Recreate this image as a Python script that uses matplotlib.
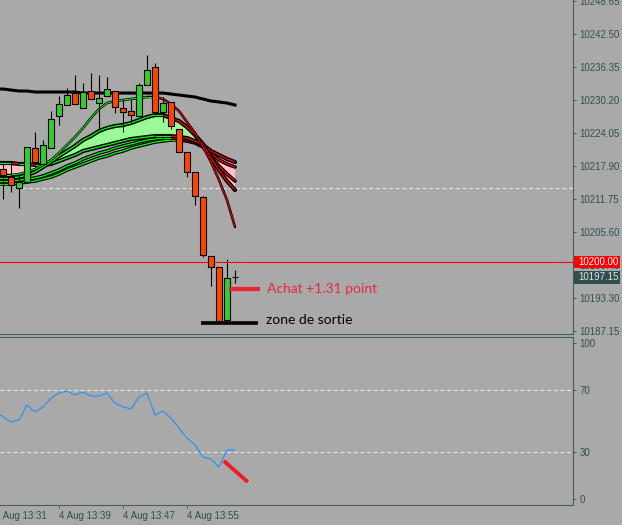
import numpy as np
import matplotlib
matplotlib.use('Agg')
import matplotlib.pyplot as plt
from matplotlib.collections import LineCollection
from matplotlib.patches import Rectangle
from matplotlib.transforms import blended_transform_factory

plt.rcParams['font.family'] = 'Liberation Sans'

# ---- data: 1 minute bars, 4 Aug 13:32 .. 14:01 ----
opens = [10217.34, 10215.85, 10213.80, 10214.92, 10221.25, 10218.27, 10221.25, 10227.22,
         10229.27, 10231.50, 10228.71, 10231.88, 10229.64, 10230.94, 10231.88, 10228.71,
         10228.15, 10227.22, 10232.99, 10236.35, 10227.96, 10229.83, 10224.79, 10220.51,
         10216.78, 10212.12, 10201.13, 10199.08, 10189.20, 10197.15]
highs = [10218.46, 10218.64, 10216.22, 10221.44, 10224.24, 10222.74, 10228.15, 10230.94,
         10232.44, 10234.86, 10233.37, 10235.23, 10234.86, 10234.49, 10231.88, 10230.20,
         10230.20, 10233.37, 10238.59, 10237.09, 10230.76, 10229.83, 10224.79, 10220.51,
         10216.78, 10212.31, 10201.13, 10199.08, 10200.57, 10198.52]
lows = [10211.75, 10213.05, 10210.07, 10214.73, 10218.46, 10218.27, 10221.25, 10225.54,
        10229.27, 10229.45, 10228.71, 10230.39, 10224.61, 10230.94, 10227.78, 10224.24,
        10225.91, 10227.22, 10232.99, 10227.96, 10226.10, 10224.79, 10220.51, 10215.85,
        10210.63, 10200.94, 10195.54, 10189.01, 10189.20, 10196.10]
closes = [10216.22, 10214.36, 10214.92, 10221.44, 10218.64, 10221.81, 10226.66, 10229.45,
          10231.13, 10229.45, 10231.69, 10230.39, 10230.57, 10232.25, 10228.90, 10227.96,
          10227.40, 10232.99, 10235.79, 10227.96, 10229.64, 10225.35, 10220.51, 10216.78,
          10212.31, 10201.31, 10199.08, 10189.01, 10197.03, 10197.15]

# indicator lines start one bar earlier (bar -1)
slow_ma = [10232.25, 10232.25, 10232.06, 10231.88, 10231.88, 10231.69, 10231.69, 10231.69,
           10231.69, 10231.69, 10231.69, 10231.50, 10231.50, 10231.50, 10231.50, 10231.50,
           10231.50, 10231.50, 10231.50, 10231.50, 10231.50, 10231.50, 10231.31, 10231.13,
           10230.94, 10230.76, 10230.39, 10230.01, 10229.83, 10229.64, 10229.27]
fast_ma = [10216.22, 10216.22, 10216.22, 10216.41, 10216.78, 10217.34, 10218.09, 10219.02,
           10220.32, 10221.81, 10223.30, 10224.98, 10226.84, 10228.52, 10229.64, 10230.01,
           10230.20, 10230.39, 10230.57, 10230.76, 10230.76, 10230.39, 10229.45, 10228.15,
           10226.10, 10224.05, 10221.44, 10218.64, 10215.29, 10211.56, 10206.53]
ribbon_a = [10215.66, 10215.66, 10215.66, 10215.85, 10216.22, 10216.78, 10217.71, 10218.64,
            10219.76, 10220.69, 10221.63, 10222.74, 10223.49, 10224.42, 10224.98, 10225.35,
            10225.54, 10225.91, 10226.47, 10227.03, 10227.40, 10227.40, 10226.84, 10226.29,
            10225.17, 10223.68, 10222.00, 10219.39, 10217.15, 10215.10, 10213.43]
ribbon_b = [10218.46, 10218.46, 10218.46, 10218.27, 10218.27, 10218.09, 10218.09, 10218.27,
            10218.83, 10219.39, 10219.95, 10220.69, 10221.07, 10221.44, 10221.81, 10222.19,
            10222.56, 10222.93, 10223.12, 10223.30, 10223.49, 10223.49, 10223.49, 10223.30,
            10223.12, 10222.56, 10221.81, 10220.69, 10219.95, 10219.20, 10218.64]
ribbon_c = [10215.10, 10215.10, 10215.10, 10215.29, 10215.48, 10215.66, 10216.04, 10216.59,
            10217.15, 10217.90, 10218.46, 10219.20, 10219.76, 10220.32, 10220.69, 10221.25,
            10221.63, 10222.00, 10222.37, 10222.74, 10222.93, 10223.12, 10223.12, 10222.93,
            10222.74, 10222.37, 10221.63, 10220.32, 10219.02, 10218.27, 10217.71]
ribbon_d = [10214.54, 10214.54, 10214.54, 10214.73, 10214.92, 10215.10, 10215.48, 10215.85,
            10216.41, 10217.15, 10217.71, 10218.27, 10218.83, 10219.39, 10219.76, 10220.32,
            10220.69, 10221.25, 10221.63, 10222.00, 10222.37, 10222.56, 10222.74, 10222.74,
            10222.56, 10222.19, 10221.44, 10219.58, 10217.90, 10216.41, 10215.10]
rsi = [56.4, 52.6, 49.4, 50.6, 60.3, 55.8, 59.0, 64.7, 67.9, 69.2, 66.7, 68.6, 66.0, 66.0,
       67.9, 61.5, 59.0, 57.7, 65.4, 67.9, 53.8, 56.4, 51.9, 45.5, 39.1, 34.6, 26.9, 25.6,
       20.5, 31.4, 31.4]

price_ticks = [10248.65, 10242.50, 10236.35, 10230.20, 10224.05, 10217.90, 10211.75,
               10205.60, 10199.45, 10193.30, 10187.15]
rsi_ticks = [0, 30, 70, 100]
time_ticks = [-1, 7, 15, 23]
time_labels = ['4 Aug 13:31', '4 Aug 13:39', '4 Aug 13:47', '4 Aug 13:55']

level_price = 10200.00
last_price = 10197.15
dash_level = 10213.80
buy_line_x = [28.25, 32.1]
buy_price = 10194.98
exit_line_x = [24.75, 31.9]
exit_price = 10188.64
sell_rsi_x = [27.6, 30.6]
sell_rsi_y = [24.4, 10.9]

# ---- styles ----
bg = '#a9a9a9'
slate = '#2f4f4f'
spine_c = '#3f6060'
up_c = '#32cd32'
dn_c = '#ff4500'
fs = 7.0

W, H = 622, 525
fig = plt.figure(figsize=(W / 100, H / 100), dpi=100)
fig.patch.set_facecolor(bg)
ax = fig.add_axes([0, 1 - 334 / H, 573 / W, 334 / H])
ax2 = fig.add_axes([0, 1 - 505 / H, 573 / W, (505 - 337) / H])

xb = np.arange(len(opens))
xi = np.arange(-1, len(opens))

for a in (ax, ax2):
    a.set_facecolor(bg)
    a.set_xlim(-0.375, 71.25)
    a.spines['left'].set_visible(False)
    for s in ('right', 'bottom', 'top'):
        a.spines[s].set_color(spine_c)
        a.spines[s].set_linewidth(0.8)
    a.yaxis.tick_right()
    a.tick_params(axis='y', direction='out', length=2.5, width=0.7, color=spine_c,
                  labelsize=fs, labelcolor=slate, pad=2)
ax.spines['top'].set_visible(False)
ax.set_ylim(10186.59, 10248.84)
ax2.set_ylim(-3.85, 103.85)
ax.set_xticks([])

ax.set_yticks(price_ticks, ['%.2f' % v for v in price_ticks])
ax2.set_yticks(rsi_ticks, [str(v) for v in rsi_ticks])

# ---- main panel ----
ax.axhline(level_price, color='#ff0000', lw=0.8, zorder=2)
ax.hlines(dash_level, 2.4, 71.25, colors='#e8e8e8', lw=0.8, linestyles=(0, (3.5, 2.5)), zorder=2)

ra = np.array(ribbon_a)
rb = np.array(ribbon_b)
ax.fill_between(xi, ra, rb, where=ra >= rb, interpolate=True, color='#98fb98', lw=0, zorder=3)
ax.fill_between(xi, ra, rb, where=ra < rb, interpolate=True, color='#ffc0cb', lw=0, zorder=3)

ax.plot(xi, slow_ma, color='black', lw=2.2, zorder=4)


def ribbon_line(y, outer, inner, z):
    y = np.asarray(y)
    ax.plot(xi, y, color='black', lw=outer, zorder=z, solid_capstyle='round')
    segs = [[(xi[i], y[i]), (xi[i + 1], y[i + 1])] for i in range(len(y) - 1)]
    cols = ['#00ff00' if y[i + 1] >= y[i] else '#ff0000' for i in range(len(y) - 1)]
    ax.add_collection(LineCollection(segs, colors=cols, linewidths=inner, zorder=z + 0.1))


ribbon_line(ribbon_d, 2.6, 0.9, 5)
ribbon_line(ribbon_c, 2.6, 0.9, 5.2)
ribbon_line(ribbon_b, 3.0, 0.9, 5.4)
ribbon_line(ribbon_a, 3.0, 0.9, 5.6)
ribbon_line(fast_ma, 1.8, 0.7, 5.8)

o = np.array(opens)
c = np.array(closes)
cols = [up_c if cc > oo else dn_c for oo, cc in zip(o, c)]
ax.vlines(xb, lows, highs, color='black', lw=0.8, zorder=7)
ax.bar(xb, c - o, bottom=o, width=0.65, color=cols, edgecolor='black', linewidth=0.8, zorder=8)

# annotations
ax.plot(buy_line_x, [buy_price] * 2, color='#ee2233', lw=3, solid_capstyle='butt', zorder=9)
ax.text(33.0, buy_price, 'Achat +1.31 point', color='#e8283c', fontsize=10,
        family='Lato', va='center', ha='left', zorder=9)
ax.plot(exit_line_x, [exit_price] * 2, color='black', lw=2.6, solid_capstyle='butt', zorder=9)
ax.text(32.9, exit_price + 0.6, 'zone de sortie', color='black', fontsize=10,
        family='Lato', va='center', ha='left', zorder=9)

# price labels on the axis
tr = blended_transform_factory(fig.transFigure, ax.transData)
for price, fc, tc in ((last_price, slate, '#e0e0e0'), (level_price, '#ff0000', 'white')):
    r = Rectangle((574 / W, price - 1.15), 46 / W, 2.3, transform=tr, facecolor=fc,
                  edgecolor='none', clip_on=False, zorder=20)
    ax.add_patch(r)
    ax.text(578 / W, price, '%.2f' % price, transform=tr, color=tc, fontsize=fs,
            va='center', ha='left', clip_on=False, zorder=21)

# ---- RSI panel ----
for lv in (30, 70):
    ax2.axhline(lv, color='#e8e8e8', lw=0.8, linestyle=(0, (3.5, 2.5)), zorder=2)
ax2.plot(xi, rsi, color='#1e90ff', lw=0.8, zorder=4)
ax2.plot(sell_rsi_x, sell_rsi_y, color='#ee1c25', lw=2.8, solid_capstyle='butt', zorder=5)

ax2.set_xticks(time_ticks[1:], time_labels[1:])
ax2.tick_params(axis='x', direction='out', length=2.5, width=0.7, color=spine_c,
                labelsize=fs, labelcolor=slate, pad=1.5)
for lab in ax2.get_xticklabels():
    lab.set_horizontalalignment('left')
ax2.text(time_ticks[0], -0.035, time_labels[0],
         transform=blended_transform_factory(ax2.transData, ax2.transAxes),
         color=slate, fontsize=fs, ha='left', va='top', clip_on=False)

fig.savefig('out.png', dpi=100, facecolor=bg)
